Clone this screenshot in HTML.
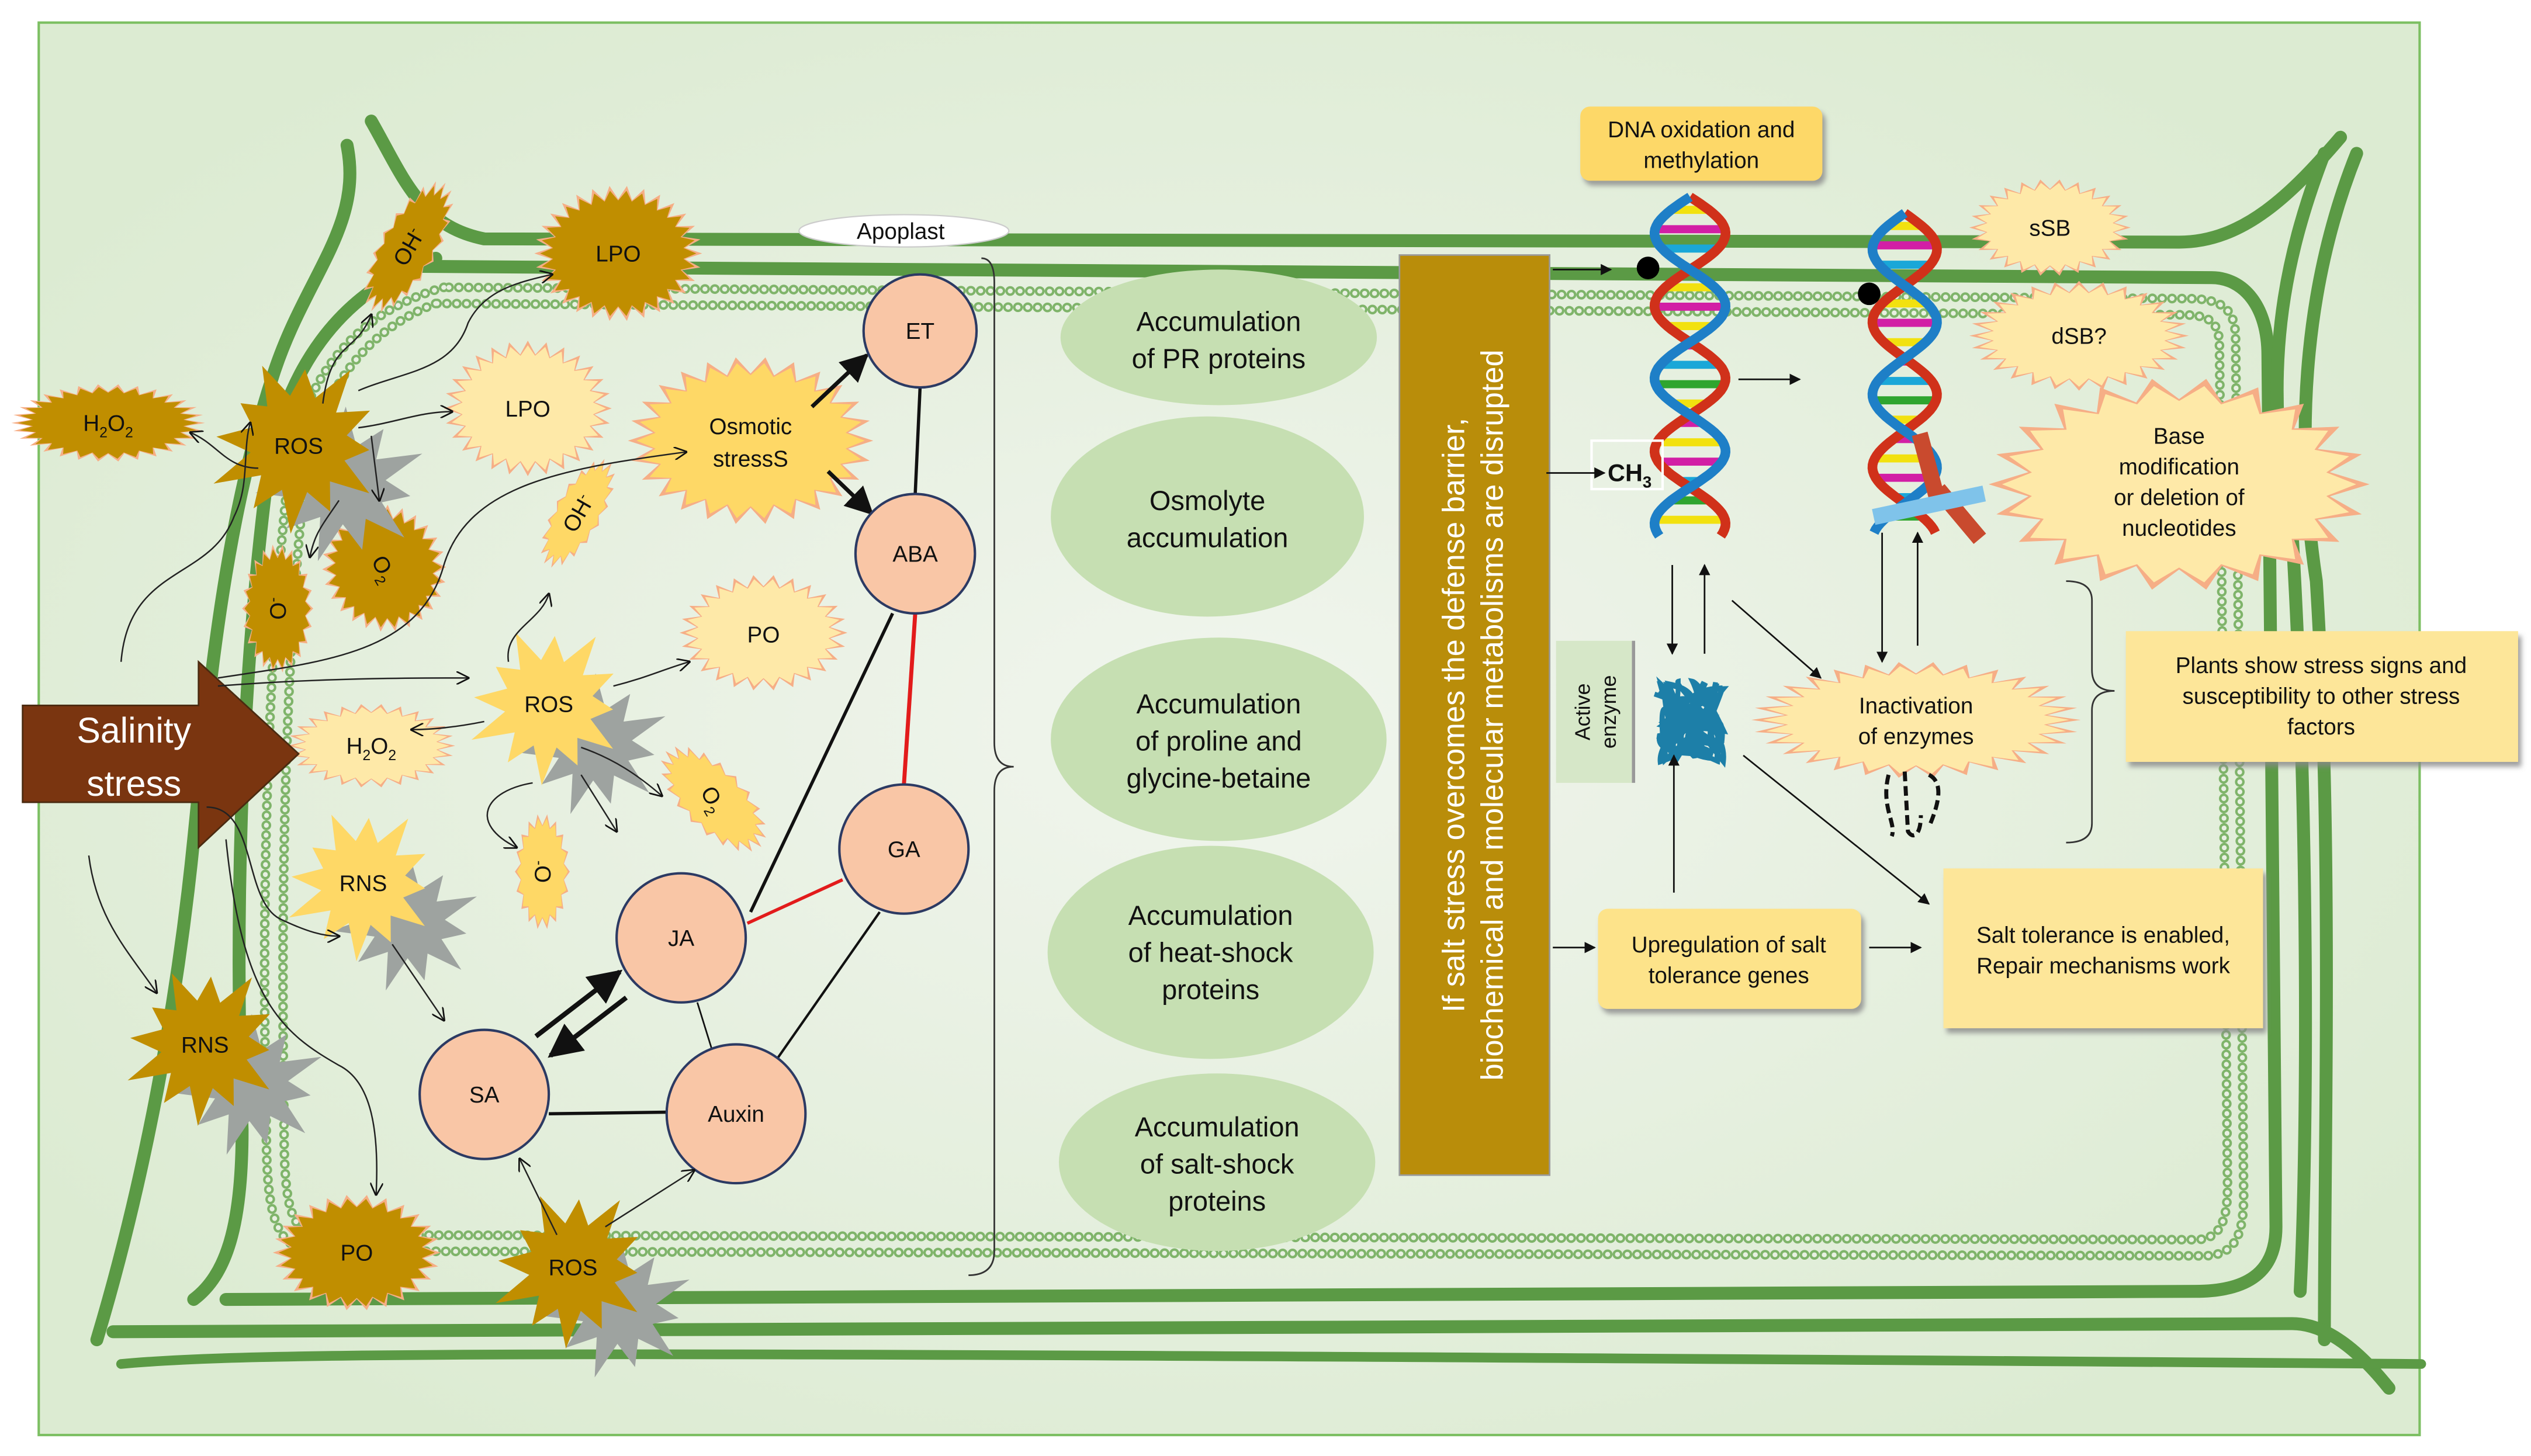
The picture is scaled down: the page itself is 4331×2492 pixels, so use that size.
<!DOCTYPE html>
<html><head><meta charset="utf-8">
<style>
html,body{margin:0;padding:0;background:#fff;}
svg{display:block;}
text{font-family:"Liberation Sans",sans-serif;fill:#111;}
</style></head>
<body>
<svg id="s" xmlns="http://www.w3.org/2000/svg" width="4331" height="2492" viewBox="0 0 1568 902" preserveAspectRatio="none">
<defs>
<radialGradient id="bg" cx="50%" cy="50%" r="60%">
<stop offset="0" stop-color="#f1f5ee"/><stop offset="1" stop-color="#dcebd2"/>
</radialGradient>
<marker id="a" viewBox="0 0 10 10" refX="9" refY="5" markerWidth="7" markerHeight="7" orient="auto"><path d="M0,0L10,5L0,10z" fill="#111"/></marker>
<marker id="o" viewBox="0 0 10 10" refX="9" refY="5" markerWidth="9" markerHeight="9" orient="auto"><path d="M0,0L10,5L0,10" fill="none" stroke="#111" stroke-width="1.2"/></marker>
<filter id="sh"><feDropShadow dx="2" dy="3" stdDeviation="1.5" flood-color="#888" flood-opacity="0.8"/></filter>
</defs>
<rect x="0" y="0" width="1568" height="902" fill="#fff"/>
<rect x="24" y="14" width="1475" height="875" fill="url(#bg)" stroke="#7cbf62" stroke-width="1.5"/>
<g id="walls" fill="none" stroke="#5b9a45" stroke-width="8" stroke-linecap="round">
<path d="M230,75 C250,110 260,140 300,148 L1350,150 C1390,150 1420,120 1450,85"/>
<path d="M215,90 C225,140 190,170 170,230 C140,320 130,420 120,520 C110,620 90,730 60,830"/>
<path d="M255,165 L1370,172 C1390,172 1405,190 1405,220 L1410,760 C1410,790 1390,800 1360,800 L140,805"/>
<path d="M270,160 C210,180 175,230 165,300 C150,420 145,560 150,700 C150,760 140,790 120,805"/>
<path d="M1440,95 C1415,160 1400,230 1420,330 C1430,500 1430,700 1425,800"/>
<path d="M1460,95 C1430,170 1420,260 1435,360 C1445,520 1440,700 1440,830"/>
<path d="M70,825 L1420,820 C1440,820 1460,835 1480,860"/>
<path d="M75,845 C150,838 300,836 1500,845" stroke-width="6"/>
</g>
<g fill="none" stroke-dasharray="0.1 6" stroke-linecap="round">
<path id="m1" d="M275,178 C215,195 185,240 178,300 C165,420 162,560 165,700 C165,750 170,770 190,775 L1365,778 C1385,778 1390,765 1390,740 L1385,210 C1385,190 1375,185 1355,185 Z" stroke="#7fb46a" stroke-width="6"/>
<path d="M275,178 C215,195 185,240 178,300 C165,420 162,560 165,700 C165,750 170,770 190,775 L1365,778 C1385,778 1390,765 1390,740 L1385,210 C1385,190 1375,185 1355,185 Z" stroke="#e8f0e2" stroke-width="3"/>
<path d="M270,188 C225,205 195,245 188,305 C176,420 174,560 176,700 C176,745 180,762 195,765 L1360,768 C1375,768 1380,757 1380,735 L1375,215 C1375,198 1368,195 1350,195 Z" stroke="#7fb46a" stroke-width="6"/>
<path d="M270,188 C225,205 195,245 188,305 C176,420 174,560 176,700 C176,745 180,762 195,765 L1360,768 C1375,768 1380,757 1380,735 L1375,215 C1375,198 1368,195 1350,195 Z" stroke="#e8f0e2" stroke-width="3"/>
</g>
<g id="stars"></g>
<ellipse cx="560" cy="143" rx="65" ry="10" fill="#fff" stroke="#ccc" stroke-width="0.8"/>
<text x="558" y="148" font-size="14" text-anchor="middle">Apoplast</text>
<path d="M608,160 Q616,160 616,175 L616,460 Q616,475 628,475 Q616,475 616,490 L616,775 Q616,790 600,790" fill="none" stroke="#333" stroke-width="1"/>
<path d="M1280,360 Q1296,360 1296,372 L1296,415 Q1296,428 1310,428 Q1296,428 1296,440 L1296,510 Q1296,522 1280,522" fill="none" stroke="#333" stroke-width="1"/>
<g stroke="#111" stroke-width="2" fill="none">
<line x1="570" y1="240" x2="567" y2="306"/>
<line x1="465" y1="565" x2="553" y2="380" />
<line x1="340" y1="690" x2="413" y2="689"/>
<line x1="480" y1="658" x2="545" y2="565" stroke-width="1.5"/>
<line x1="432" y1="621" x2="441" y2="650" stroke-width="1"/>
<line x1="503" y1="252" x2="537" y2="220" marker-end="url(#a)" stroke-width="2.5"/>
<line x1="513" y1="292" x2="540" y2="318" marker-end="url(#a)" stroke-width="2.5"/>
<line x1="332" y1="642" x2="384" y2="602" marker-end="url(#a)" stroke-width="3"/>
<line x1="388" y1="618" x2="341" y2="654" marker-end="url(#a)" stroke-width="3"/>
</g>
<line x1="567" y1="380" x2="560" y2="486" stroke="#e21b1b" stroke-width="2.5"/>
<line x1="463" y1="572" x2="522" y2="545" stroke="#e21b1b" stroke-width="2"/>
<g fill="#f9c6a6" stroke="#2c3a63" stroke-width="1.5">
<circle cx="570" cy="205" r="35"/><circle cx="567" cy="343" r="37"/><circle cx="560" cy="526" r="40"/>
<circle cx="422" cy="581" r="40"/><circle cx="300" cy="678" r="40"/><circle cx="456" cy="690" r="43"/>
</g>
<g font-size="14" text-anchor="middle">
<text x="570" y="210">ET</text><text x="567" y="348">ABA</text><text x="560" y="531">GA</text>
<text x="422" y="586">JA</text><text x="300" y="683">SA</text><text x="456" y="695">Auxin</text>
</g>
<g fill="#c6dfb2">
<ellipse cx="755" cy="209" rx="98" ry="42"/><ellipse cx="748" cy="320" rx="97" ry="62"/>
<ellipse cx="755" cy="458" rx="104" ry="63"/><ellipse cx="750" cy="590" rx="101" ry="66"/>
<ellipse cx="754" cy="720" rx="98" ry="55"/>
</g>
<g font-size="17" text-anchor="middle">
<text x="755" y="205">Accumulation</text><text x="755" y="228">of PR proteins</text>
<text x="748" y="316">Osmolyte</text><text x="748" y="339">accumulation</text>
<text x="755" y="442">Accumulation</text><text x="755" y="465">of proline and</text><text x="755" y="488">glycine-betaine</text>
<text x="750" y="573">Accumulation</text><text x="750" y="596">of heat-shock</text><text x="750" y="619">proteins</text>
<text x="754" y="704">Accumulation</text><text x="754" y="727">of salt-shock</text><text x="754" y="750">proteins</text>
</g>
<rect x="867" y="158" width="93" height="570" fill="#b98d0a" stroke="#9a9a9a" stroke-width="1"/>
<g transform="translate(913,443) rotate(-90)" font-size="19" text-anchor="middle">
<text x="0" y="-6" style="fill:#fff">If salt stress overcomes the defense barrier,</text>
<text x="0" y="18" style="fill:#fff">biochemical and molecular metabolisms are disrupted</text>
</g>
<path d="M14,437 L123,437 L123,410 L185,467 L123,525 L123,497 L14,497 Z" fill="#7a3510" stroke="#4a2a10" stroke-width="1"/>
<text x="83" y="460" font-size="22" text-anchor="middle" style="fill:#fff">Salinity</text>
<text x="83" y="493" font-size="22" text-anchor="middle" style="fill:#fff">stress</text>
<g filter="url(#sh)">
<rect x="979" y="66" width="150" height="46" rx="6" fill="#fdd868"/>
<rect x="990" y="563" width="163" height="62" rx="6" fill="#fde38a"/>
<rect x="1204" y="538" width="198" height="99" fill="#fde699"/>
<rect x="1317" y="391" width="243" height="81" fill="#fde699"/>
</g>
<g font-size="14" text-anchor="middle">
<text x="1054" y="85">DNA oxidation and</text><text x="1054" y="104">methylation</text>
<text x="1071" y="590">Upregulation of salt</text><text x="1071" y="609">tolerance genes</text>
<text x="1303" y="584">Salt tolerance is enabled,</text><text x="1303" y="603">Repair mechanisms work</text>
<text x="1438" y="417">Plants show stress signs and</text><text x="1438" y="436">susceptibility to other stress</text><text x="1438" y="455">factors</text>
</g>
<rect x="964" y="397" width="48" height="88" fill="#d6e7c8"/>
<line x1="1012" y1="397" x2="1012" y2="485" stroke="#999" stroke-width="2"/>
<g transform="translate(988,441) rotate(-90)" font-size="13" text-anchor="middle"><text y="-3">Active</text><text y="13">enzyme</text></g>
<g id="dna"></g>
<rect x="986" y="273" width="44" height="30" fill="none" stroke="#fff" stroke-width="1.5"/>
<text x="996" y="298" font-size="15" font-weight="bold">CH<tspan font-size="10" dy="4">3</tspan></text>
<g stroke="#111" stroke-width="1" fill="none" marker-end="url(#a)">
<line x1="962" y1="167" x2="998" y2="167"/>
<line x1="958" y1="293" x2="994" y2="293"/>
<line x1="1077" y1="235" x2="1115" y2="235"/>
<line x1="1036" y1="350" x2="1036" y2="405"/>
<line x1="1056" y1="405" x2="1056" y2="350"/>
<line x1="1073" y1="372" x2="1128" y2="420"/>
<line x1="1166" y1="330" x2="1166" y2="410"/>
<line x1="1188" y1="400" x2="1188" y2="330"/>
<line x1="1037" y1="553" x2="1037" y2="468"/>
<line x1="1080" y1="468" x2="1195" y2="560"/>
<line x1="962" y1="587" x2="988" y2="587"/>
<line x1="1158" y1="587" x2="1190" y2="587"/>
</g>
<g stroke="#222" stroke-width="0.9" fill="none" marker-end="url(#o)">
<path d="M75,410 C80,350 130,360 145,320 C155,300 150,280 155,262"/>
<path d="M200,250 C205,210 220,220 230,195"/>
<path d="M222,242 C250,230 280,230 290,200 C300,180 320,175 342,170"/>
<path d="M222,265 C245,262 260,255 280,255"/>
<path d="M160,290 C140,290 135,275 118,268"/>
<path d="M230,270 L235,310" />
<path d="M210,310 C200,325 195,330 192,345"/>
<path d="M135,420 C200,410 260,405 275,350 C290,300 350,290 425,280"/>
<path d="M135,425 C200,420 250,420 290,420"/>
<path d="M315,410 C312,390 335,385 340,368"/>
<path d="M380,425 C400,420 410,415 427,410"/>
<path d="M300,447 C285,450 270,452 255,452"/>
<path d="M360,463 C380,470 395,480 410,493"/>
<path d="M330,485 C300,490 290,510 320,525"/>
<path d="M360,480 L382,515"/>
<path d="M128,500 C160,500 150,560 175,570 C190,577 200,580 210,580"/>
<path d="M243,585 L275,632"/>
<path d="M55,530 C60,570 80,590 97,615"/>
<path d="M140,520 C150,620 175,640 210,660 C230,670 235,700 233,740"/>
<path d="M345,765 L322,718"/>
<path d="M375,760 L430,725"/>
</g>
</svg>
<script>
var NS="http://www.w3.org/2000/svg",S=document.getElementById('stars');
function poly(par,cx,cy,rx,ry,n,k,fill,rot,jit){
 var p=[],r=(rot||0)*Math.PI/180;
 for(var i=0;i<2*n;i++){var f=i%2?k:1;if(jit&&i%2==0)f*=(0.8+0.3*((i*37)%7)/7);var a=i*Math.PI/n;
  var x=Math.cos(a)*rx*f,y=Math.sin(a)*ry*f;
  p.push((cx+x*Math.cos(r)-y*Math.sin(r)).toFixed(1)+","+(cy+x*Math.sin(r)+y*Math.cos(r)).toFixed(1));}
 var e=document.createElementNS(NS,'polygon');e.setAttribute('points',p.join(' '));e.setAttribute('fill',fill);par.appendChild(e);}
function burst(cx,cy,rx,ry,type,rot,n){
 n=n||26;
 var inner=type=='d'?'#c08e00':type=='m'?'#fed866':'#fee9a8';
 poly(S,cx,cy,rx,ry,n,0.8,'#f6ae86',rot);
 poly(S,cx,cy,rx*0.93,ry*0.93,n,0.84,inner,rot);}
function big(cx,cy,r,col,shadow){
 if(shadow)poly(S,cx+28,cy+25,r*0.95,r*0.9,11,0.5,'#9ea3a0',10,1);
 poly(S,cx,cy,r,r,12,0.55,col,5,1);}
burst(253,153,18,46,'d',30,20);
burst(383,157,52,42,'d',0,30);
burst(67,262,60,24,'d',0,30);
burst(172,377,22,40,'d',0,22);
burst(238,352,38,40,'d',-30,26);
burst(327,253,52,42,'l',0,28);
burst(465,273,76,52,'m',0,26);
burst(358,318,15,38,'m',30,18);
burst(473,392,52,36,'l',0,26);
burst(230,462,52,26,'l',0,26);
burst(442,495,20,42,'m',-45,20);
burst(336,540,17,36,'m',0,18);
burst(221,776,52,36,'d',0,26);
burst(1270,141,50,30,'l',0,26);
burst(1288,208,68,34,'l',0,28);
burst(1350,300,118,66,'l',0,22);
burst(1187,446,102,36,'l',0,30);
big(185,275,55,'#c08e00',1);
big(340,436,50,'#fed866',1);
big(225,547,48,'#fed866',1);
big(127,647,50,'#c08e00',1);
big(355,785,50,'#c08e00',1);
function T(x,y,s,fs,rot){var t=document.createElementNS(NS,'text');t.setAttribute('x',x);t.setAttribute('y',y);t.setAttribute('font-size',fs||14);t.setAttribute('text-anchor','middle');if(rot)t.setAttribute('transform','rotate('+rot+' '+x+' '+(y-5)+')');t.innerHTML=s;S.appendChild(t);}
T(253,158,'OH<tspan font-size="9" dy="-5">-</tspan>',14,-60);
T(383,162,'LPO');
T(67,267,'H<tspan font-size="9" dy="4">2</tspan><tspan dy="-4">O</tspan><tspan font-size="9" dy="4">2</tspan>');
T(185,281,'ROS');
T(172,382,'O<tspan font-size="9" dy="-5">-</tspan>',14,-90);
T(238,357,'O<tspan font-size="9" dy="4">2</tspan>',14,60);
T(327,258,'LPO');
T(465,269,'Osmotic');T(465,289,'stressS');
T(358,323,'OH<tspan font-size="9" dy="-5">-</tspan>',14,-60);
T(473,398,'PO');
T(340,441,'ROS');
T(230,467,'H<tspan font-size="9" dy="4">2</tspan><tspan dy="-4">O</tspan><tspan font-size="9" dy="4">2</tspan>');
T(442,500,'O<tspan font-size="9" dy="4">2</tspan>',14,60);
T(336,545,'O<tspan font-size="9" dy="-5">-</tspan>',14,-90);
T(225,552,'RNS');
T(127,652,'RNS');
T(221,781,'PO');
T(355,790,'ROS');
T(1270,146,'sSB');
T(1288,213,'dSB?');
T(1350,275,'Base');T(1350,294,'modification');T(1350,313,'or deletion of');T(1350,332,'nucleotides');
T(1187,442,'Inactivation');T(1187,461,'of enzymes');
var D=document.getElementById('dna');
function helix(cx,y0,y1,amp){
 var cols=['#f2e10f','#d21fa5','#1aa7d8','#2fa52f','#f2e10f','#d21fa5'];
 for(var y=y0+8,i=0;y<y1-4;y+=12,i++){
  var ph=(y-y0)/45*Math.PI, w=Math.abs(Math.sin(ph))*amp;
  var l=document.createElementNS(NS,'line');l.setAttribute('x1',cx-w);l.setAttribute('x2',cx+w);l.setAttribute('y1',y);l.setAttribute('y2',y);
  l.setAttribute('stroke',cols[i%6]);l.setAttribute('stroke-width',5);D.appendChild(l);}
 ['#d0311a','#1e7fc7'].forEach(function(c,j){var d='';for(var y=y0;y<=y1;y+=2){var x=cx+amp*Math.sin((y-y0)/45*Math.PI+j*Math.PI);d+=(y==y0?'M':'L')+x.toFixed(1)+','+y;}
  var p=document.createElementNS(NS,'path');p.setAttribute('d',d);p.setAttribute('stroke',c);p.setAttribute('stroke-width',6);p.setAttribute('fill','none');D.appendChild(p);});}
helix(1047,122,332,22);
helix(1180,132,330,20);
function circ(x,y,r,f){var c=document.createElementNS(NS,'circle');c.setAttribute('cx',x);c.setAttribute('cy',y);c.setAttribute('r',r);c.setAttribute('fill',f);D.appendChild(c);}
circ(1021,166,7,'#000');circ(1158,182,7,'#000');
var bits=[[1195,290,'#c94a2e',-15],[1215,320,'#c94a2e',-40]];
bits.forEach(function(b){var r=document.createElementNS(NS,'rect');r.setAttribute('x',b[0]-5);r.setAttribute('y',b[1]-22);r.setAttribute('width',10);r.setAttribute('height',40);r.setAttribute('fill',b[2]);r.setAttribute('transform','rotate('+b[3]+' '+b[0]+' '+b[1]+')');D.appendChild(r);});
var bar=document.createElementNS(NS,'rect');bar.setAttribute('x',1160);bar.setAttribute('y',308);bar.setAttribute('width',70);bar.setAttribute('height',10);bar.setAttribute('fill','#7fc3ea');bar.setAttribute('transform','rotate(-12 1195 313)');D.appendChild(bar);
var d='M1025,430';for(var i=0;i<60;i++){var a=i*1.7;d+=' Q'+(1048+22*Math.cos(a*1.3)).toFixed(1)+','+(445+22*Math.sin(a)).toFixed(1)+' '+(1048+20*Math.cos(a*0.9+1)).toFixed(1)+','+(447+25*Math.sin(a*1.1+2)).toFixed(1);}
var p=document.createElementNS(NS,'path');p.setAttribute('d',d);p.setAttribute('stroke','#1d7fa8');p.setAttribute('stroke-width',3);p.setAttribute('fill','none');D.appendChild(p);
var d2='M1170,480 C1165,500 1175,510 1172,518 M1180,478 L1182,515 C1185,520 1190,518 1190,505 M1195,480 C1205,485 1200,500 1196,510';
var q=document.createElementNS(NS,'path');q.setAttribute('d',d2);q.setAttribute('stroke','#111');q.setAttribute('stroke-width',2.5);q.setAttribute('stroke-dasharray','6 3');q.setAttribute('fill','none');D.appendChild(q);
</script>
</body></html>
